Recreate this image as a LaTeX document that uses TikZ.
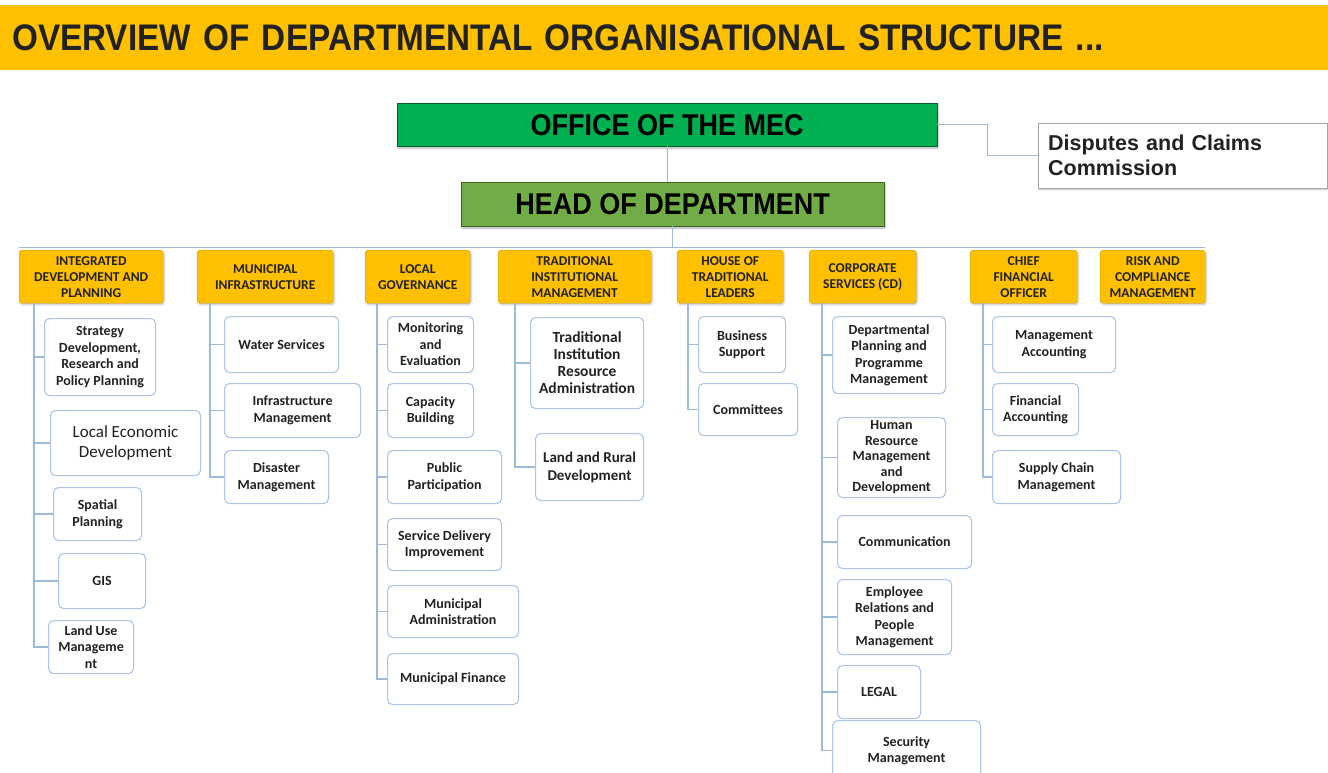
\documentclass[tikz,border=0pt]{standalone}
\usepackage{fontspec}
\setmainfont{Carlito}
\newfontfamily\encabezado[FakeStretch=0.9]{Liberation Sans}
\newfontfamily\comisionfont{Liberation Sans}
\definecolor{orgAmber}{HTML}{FFC000}
\definecolor{orgAmberDark}{HTML}{D39B00}
\definecolor{orgGreen}{HTML}{00B050}
\definecolor{orgLeaf}{HTML}{70AD47}
\definecolor{orgSky}{HTML}{A9C6E6}
\definecolor{orgLine}{HTML}{9DBADA}
\definecolor{orgInk}{HTML}{222222}
\usetikzlibrary{shadows.blur}
\tikzset{
	titulo/.style={
		fill=orgAmber,
		anchor=north west,
		align=left,
		inner xsep=12pt,
		text=orgInk,
		font=\encabezado\bfseries\fontsize{37}{40}\selectfont
	},
	oficina/.style={
		draw=orgGreen!55!black,
		fill=orgGreen,
		anchor=north west,
		inner sep=0pt,
		text=black,
		font=\encabezado\bfseries\fontsize{30}{32}\selectfont,
		blur shadow={shadow xshift=1pt, shadow yshift=-2pt, shadow opacity=30}
	},
	direccion/.style={
		oficina,
		draw=orgLeaf!55!black,
		fill=orgLeaf
	},
	comision/.style={
		draw=gray!70,
		fill=white,
		anchor=north west,
		align=left,
		inner xsep=10pt,
		font=\comisionfont\bfseries\fontsize{21.5}{25}\selectfont,
		text=orgInk,
		blur shadow={shadow xshift=1pt, shadow yshift=-1.5pt, shadow opacity=25}
	},
	area/.style={
		draw=orgAmberDark,
		fill=orgAmber,
		rounded corners=3pt,
		anchor=north west,
		align=center,
		inner sep=1pt,
		text=orgInk,
		font=\bfseries\fontsize{13.5}{16}\selectfont,
		blur shadow={shadow xshift=1pt, shadow yshift=-1.5pt, shadow opacity=25}
	},
	unidad/.style={
		draw=orgSky,
		line width=1.1pt,
		fill=white,
		rounded corners=5pt,
		anchor=north west,
		align=center,
		inner sep=2pt,
		text=orgInk,
		font=\bfseries\fontsize{14}{16.5}\selectfont
	},
	enlace/.style={
		draw=orgLine,
		line width=1.2pt
	}
}

\begin{document}
\begin{tikzpicture}[x=1pt, y=-1pt]
	\useasboundingbox (0,0) rectangle (1328,773);
	\node[titulo, minimum width=1328, minimum height=65, text width=1304] (titulo) at (0,5) {OVERVIEW OF DEPARTMENTAL ORGANISATIONAL STRUCTURE ...};

	% top of the department
	\node[oficina, minimum width=540, minimum height=43] (mec) at (397,103) {OFFICE OF THE MEC};
	\node[direccion, minimum width=423, minimum height=44] (hod) at (461,182) {HEAD OF DEPARTMENT};
	\node[comision, minimum height=65, text width=269] (dcc) at (1038,123) {Disputes and Claims\\Commission};

	% branches
	\node[area, minimum width=144, minimum height=53] (idp) at (19,250) {INTEGRATED\\DEVELOPMENT AND\\PLANNING};
	\node[area, minimum width=136, minimum height=53] (mui) at (197,250) {MUNICIPAL\\INFRASTRUCTURE};
	\node[area, minimum width=105, minimum height=53] (lgo) at (365,250) {LOCAL\\GOVERNANCE};
	\node[area, minimum width=153, minimum height=53] (tim) at (498,250) {TRADITIONAL\\INSTITUTIONAL\\MANAGEMENT};
	\node[area, minimum width=106, minimum height=53] (htl) at (677,250) {HOUSE OF\\TRADITIONAL\\LEADERS};
	\node[area, minimum width=107, minimum height=53] (cse) at (809,250) {CORPORATE\\SERVICES (CD)};
	\node[area, minimum width=107, minimum height=53] (cfo) at (970,250) {CHIEF\\FINANCIAL\\OFFICER};
	\node[area, minimum width=105, minimum height=53] (rcm) at (1100,250) {RISK AND\\COMPLIANCE\\MANAGEMENT};

	% integrated development and planning
	\node[unidad, minimum width=111, minimum height=77] (sdr) at (44,318) {Strategy\\Development,\\Research and\\Policy Planning};
	\node[unidad, minimum width=150, minimum height=65, font=\fontsize{17}{20}\selectfont] (led) at (50,410) {Local Economic\\Development};
	\node[unidad, minimum width=88, minimum height=53] (spp) at (53,487) {Spatial\\Planning};
	\node[unidad, minimum width=87, minimum height=55] (gis) at (58,553) {GIS};
	\node[unidad, minimum width=85, minimum height=53] (lum) at (48,620) {Land Use\\Manageme\\nt};

	% municipal infrastructure
	\node[unidad, minimum width=114, minimum height=56] (wsv) at (224,316) {Water Services};
	\node[unidad, minimum width=136, minimum height=54] (inm) at (224,383) {Infrastructure\\Management};
	\node[unidad, minimum width=104, minimum height=53] (dsm) at (224,450) {Disaster\\Management};

	% local governance
	\node[unidad, minimum width=86, minimum height=56] (mev) at (387,316) {Monitoring\\and\\Evaluation};
	\node[unidad, minimum width=86, minimum height=54] (cpb) at (387,383) {Capacity\\Building};
	\node[unidad, minimum width=114, minimum height=53] (ppa) at (387,450) {Public\\Participation};
	\node[unidad, minimum width=114, minimum height=52] (sdi) at (387,518) {Service Delivery\\Improvement};
	\node[unidad, minimum width=131, minimum height=52] (mad) at (387,585) {Municipal\\Administration};
	\node[unidad, minimum width=131, minimum height=51] (mfi) at (387,653) {Municipal Finance};

	% traditional institutional management
	\node[unidad, minimum width=113, minimum height=91, font=\bfseries\fontsize{15.5}{17}\selectfont] (tir) at (530,317) {Traditional\\Institution\\Resource\\Administration};
	\node[unidad, minimum width=108, minimum height=67, font=\bfseries\fontsize{15}{18}\selectfont] (lrd) at (535,433) {Land and Rural\\Development};

	% house of traditional leaders
	\node[unidad, minimum width=87, minimum height=56] (bsu) at (698,316) {Business\\Support};
	\node[unidad, minimum width=99, minimum height=52] (com) at (698,383) {Committees};

	% corporate services
	\node[unidad, minimum width=113, minimum height=77] (dpp) at (832,316) {Departmental\\Planning and\\Programme\\Management};
	\node[unidad, minimum width=108, minimum height=80, font=\bfseries\fontsize{14}{15.5}\selectfont] (hrm) at (837,417) {Human\\Resource\\Management\\and\\Development};
	\node[unidad, minimum width=134, minimum height=53] (cmm) at (837,515) {Communication};
	\node[unidad, minimum width=114, minimum height=75] (erp) at (837,579) {Employee\\Relations and\\People\\Management};
	\node[unidad, minimum width=83, minimum height=53] (leg) at (837,665) {LEGAL};
	\node[unidad, minimum width=148, minimum height=60] (scm) at (832,720) {Security\\Management};

	% chief financial officer
	\node[unidad, minimum width=123, minimum height=56] (mac) at (992,316) {Management\\Accounting};
	\node[unidad, minimum width=86, minimum height=52] (fac) at (992,383) {Financial\\Accounting};
	\node[unidad, minimum width=128, minimum height=53] (scn) at (992,450) {Supply Chain\\Management};

	% reporting lines
	\draw[enlace] (mec.south) -- (mec.south |- hod.north);
	\draw[enlace] (mec.east) -- ++(50,0) |- (dcc.west);
	\draw[enlace] (hod.south) -- ++(0,21) coordinate (bus);
	\draw[enlace] (bus -| idp.west) -- (bus -| rcm.east);

	\draw[enlace] ([xshift=15]idp.south west) |- (sdr.west)
		([xshift=15]idp.south west) |- (led.west)
		([xshift=15]idp.south west) |- (spp.west)
		([xshift=15]idp.south west) |- (gis.west)
		([xshift=15]idp.south west) |- (lum.west);
	\draw[enlace] ([xshift=13]mui.south west) |- (wsv.west)
		([xshift=13]mui.south west) |- (inm.west)
		([xshift=13]mui.south west) |- (dsm.west);
	\draw[enlace] ([xshift=12]lgo.south west) |- (mev.west)
		([xshift=12]lgo.south west) |- (cpb.west)
		([xshift=12]lgo.south west) |- (ppa.west)
		([xshift=12]lgo.south west) |- (sdi.west)
		([xshift=12]lgo.south west) |- (mad.west)
		([xshift=12]lgo.south west) |- (mfi.west);
	\draw[enlace] ([xshift=17]tim.south west) |- (tir.west)
		([xshift=17]tim.south west) |- (lrd.west);
	\draw[enlace] ([xshift=11]htl.south west) |- (bsu.west)
		([xshift=11]htl.south west) |- (com.west);
	\draw[enlace] ([xshift=13]cse.south west) |- (dpp.west)
		([xshift=13]cse.south west) |- (hrm.west)
		([xshift=13]cse.south west) |- (cmm.west)
		([xshift=13]cse.south west) |- (erp.west)
		([xshift=13]cse.south west) |- (leg.west)
		([xshift=13]cse.south west) |- (scm.west);
	\draw[enlace] ([xshift=13]cfo.south west) |- (mac.west)
		([xshift=13]cfo.south west) |- (fac.west)
		([xshift=13]cfo.south west) |- (scn.west);
\end{tikzpicture}
\end{document}
